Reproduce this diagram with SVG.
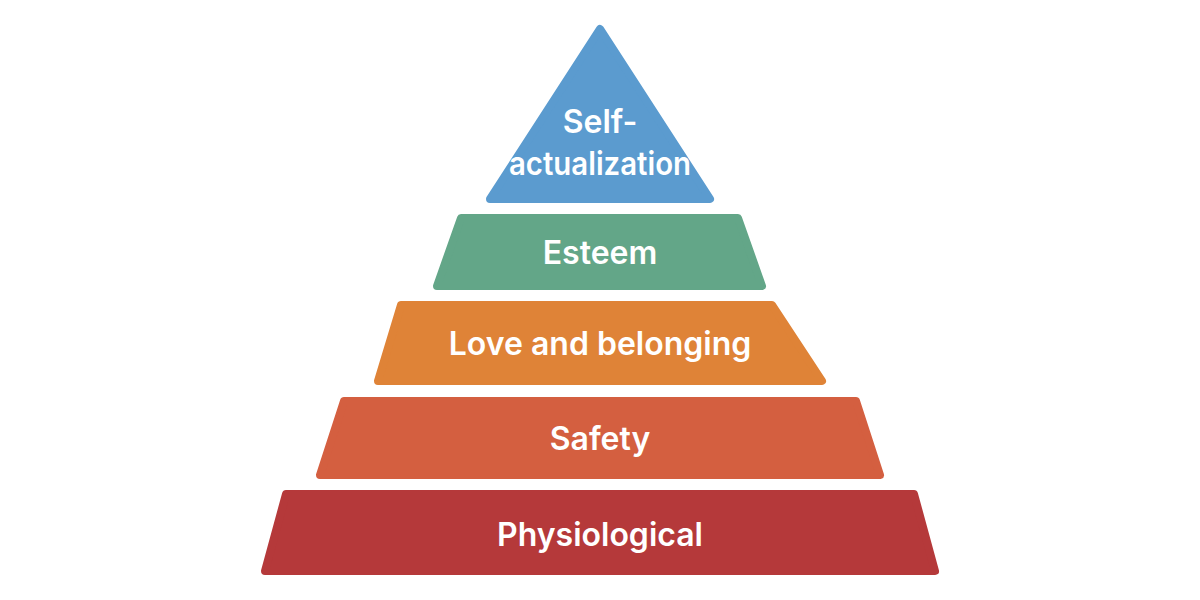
<svg xmlns="http://www.w3.org/2000/svg" width="1200" height="600" viewBox="0 0 1200 600">
<style>
.t{font-family:Inter,Roboto,"Liberation Sans",sans-serif;font-weight:600;font-size:32px;fill:#fff;text-anchor:middle}
.s{stroke-linejoin:round;stroke-width:8}
</style>
<rect width="1200" height="600" fill="#fff"/>
<g id="self"><path class="s" d="M600,29 L710,199 L490,199 Z" fill="#5B9BCF" stroke="#5B9BCF"/>
<text class="t" x="600" y="133" font-size="30">Self-</text><text class="t" x="600" y="175" font-size="30" textLength="182" lengthAdjust="spacingAndGlyphs">actualization</text></g>
<g id="esteem"><path class="s" d="M461,218 L738,218 L762,286 L437,286 Z" fill="#63A688" stroke="#63A688"/>
<text class="t" x="600" y="264">Esteem</text></g>
<g id="love"><path class="s" d="M401,305 L772,305 L822,381 L378,381 Z" fill="#DF8337" stroke="#DF8337"/>
<text class="t" x="600" y="355">Love and belonging</text></g>
<g id="safety"><path class="s" d="M344,401 L856,401 L880,475 L320,475 Z" fill="#D45F40" stroke="#D45F40"/>
<text class="t" x="600" y="450">Safety</text></g>
<g id="physiological"><path class="s" d="M286,494 L914,494 L935,571 L265,571 Z" fill="#B5393A" stroke="#B5393A"/>
<text class="t" x="600" y="546">Physiological</text></g>
<g id="connectors"/>
</svg>
